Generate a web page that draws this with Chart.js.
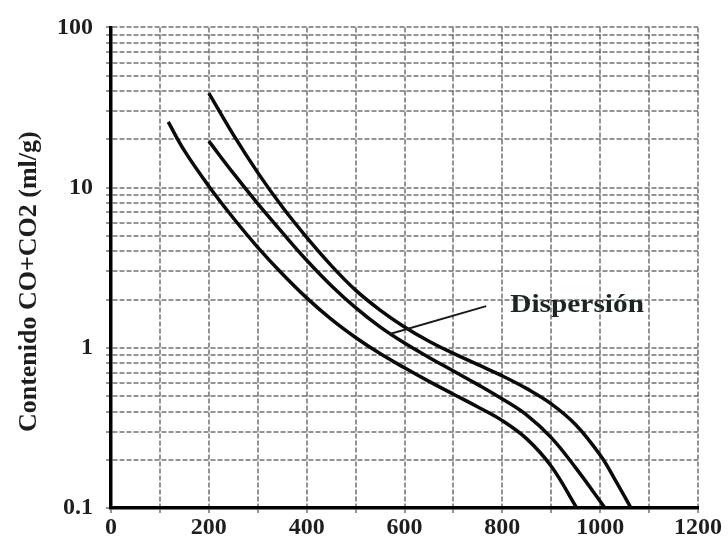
<!DOCTYPE html>
<html>
<head>
<meta charset="utf-8">
<script src="https://cdn.jsdelivr.net/npm/chart.js@4/dist/chart.umd.min.js"></script>
<style>
  html, body { margin: 0; padding: 0; background: #ffffff; }
  #wrap { width: 728px; height: 544px; }
</style>
</head>
<body>
<div id="wrap"><canvas id="c" width="728" height="544"></canvas></div>
<script>
// ---- data ----
const xGrid = [0, 100, 200, 300, 400, 500, 600, 700, 800, 900, 1000, 1100, 1200];
const xTickLabels = [0, 200, 400, 600, 800, 1000, 1200];
const yGrid = [0.1, 0.2, 0.3, 0.4, 0.5, 0.6, 0.7, 0.8, 0.9,
               1, 2, 3, 4, 5, 6, 7, 8, 9,
               10, 20, 30, 40, 50, 60, 70, 80, 90, 100];
const yTickLabels = [0.1, 1, 10, 100];

const upperX = [200, 250, 300, 350, 400, 450, 500, 550, 600, 650, 700, 750, 800, 850, 900, 950, 1000, 1030, 1063];
const upperY = [38.9, 21.4, 12.4, 7.59, 4.89, 3.27, 2.29, 1.72, 1.35, 1.10, 0.923, 0.785, 0.668, 0.556, 0.447, 0.331, 0.214, 0.151, 0.1];

const middleX = [200, 250, 300, 350, 400, 450, 500, 550, 600, 650, 700, 750, 800, 850, 900, 950, 1010];
const middleY = [19.5, 12.3, 7.94, 5.25, 3.52, 2.45, 1.78, 1.35, 1.07, 0.871, 0.716, 0.589, 0.479, 0.380, 0.275, 0.178, 0.1];

const lowerX = [117, 150, 200, 250, 300, 350, 400, 450, 500, 550, 600, 650, 700, 750, 800, 850, 900, 952];
const lowerY = [25.7, 17.0, 10.2, 6.46, 4.24, 2.90, 2.05, 1.51, 1.16, 0.92, 0.75, 0.617, 0.513, 0.427, 0.351, 0.270, 0.182, 0.1];

const yTitle = 'Contenido CO+CO2 (ml/g)';
const noteText = 'Dispersión';
const noteLineFrom = [570, 1.22];
const noteLineTo = [767, 1.82];
const noteTextAt = [816, 1.67];

// ---- helpers ----
const toPts = (xs, ys) => xs.map((x, i) => ({ x: x, y: ys[i] }));
const serif = '"Liberation Serif", "Times New Roman", serif';
const gridColor = 'rgba(60,60,60,0.55)';

const lineDs = (xs, ys) => ({
  data: toPts(xs, ys),
  borderColor: '#0a0a0a',
  borderWidth: 3.5,
  pointRadius: 0,
  fill: false,
  tension: 0.4
});

const decorPlugin = {
  id: 'decor',
  afterDatasetsDraw(chart) {
    const ctx = chart.ctx;
    const xs = chart.scales.x, ys = chart.scales.y;
    ctx.save();
    ctx.strokeStyle = '#1a1a1a';
    ctx.lineWidth = 2;
    ctx.beginPath();
    ctx.moveTo(xs.getPixelForValue(noteLineFrom[0]), ys.getPixelForValue(noteLineFrom[1]));
    ctx.lineTo(xs.getPixelForValue(noteLineTo[0]), ys.getPixelForValue(noteLineTo[1]));
    ctx.stroke();
    const tx = xs.getPixelForValue(noteTextAt[0]);
    const ty = ys.getPixelForValue(noteTextAt[1]);
    ctx.translate(tx, ty);
    ctx.scale(1.13, 1);
    ctx.fillStyle = '#1c2424';
    ctx.font = 'bold 26px ' + serif;
    ctx.textAlign = 'left';
    ctx.textBaseline = 'alphabetic';
    ctx.fillText(noteText, 0, 0);
    ctx.restore();
  },
  afterDraw(chart) {
    const ctx = chart.ctx;
    const area = chart.chartArea;
    ctx.save();
    ctx.translate(29, (area.top + area.bottom) / 2 + 14);
    ctx.rotate(-Math.PI / 2);
    ctx.fillStyle = '#1e1e1e';
    ctx.font = 'bold 26px ' + serif;
    ctx.textAlign = 'center';
    ctx.textBaseline = 'middle';
    ctx.fillText(yTitle, 0, 0);
    ctx.restore();
  }
};

new Chart(document.getElementById('c'), {
  type: 'line',
  data: {
    datasets: [lineDs(upperX, upperY), lineDs(middleX, middleY), lineDs(lowerX, lowerY)]
  },
  options: {
    responsive: false,
    animation: false,
    events: [],
    layout: { padding: { top: 27, right: 30, left: 0, bottom: 0 } },
    plugins: { legend: { display: false }, tooltip: { enabled: false } },
    scales: {
      x: {
        type: 'linear',
        min: 0,
        max: 1200,
        afterBuildTicks: (s) => { s.ticks = xGrid.map(v => ({ value: v })); },
        afterFit: (s) => { s.height = 36; },
        ticks: {
          autoSkip: false,
          maxRotation: 0,
          padding: 0,
          color: '#1e1e1e',
          font: { family: serif, size: 24, weight: 'bold' },
          callback: (v) => xTickLabels.includes(v) ? String(v) : ''
        },
        grid: { color: gridColor, lineWidth: 2, tickLength: 5 },
        border: { display: true, color: '#000', width: 3.5, dash: [5, 2] }
      },
      y: {
        type: 'logarithmic',
        min: 0.1,
        max: 100,
        afterBuildTicks: (s) => { s.ticks = yGrid.map(v => ({ value: v })); },
        afterFit: (s) => { s.width = 111; },
        ticks: {
          autoSkip: false,
          padding: 13,
          color: '#1e1e1e',
          font: { family: serif, size: 24, weight: 'bold' },
          callback: (v) => yTickLabels.includes(v) ? String(v) : ''
        },
        grid: { color: gridColor, lineWidth: 2, tickLength: 5 },
        border: { display: true, color: '#000', width: 3.5, dash: [5, 2] }
      }
    }
  },
  plugins: [decorPlugin]
});
</script>
</body>
</html>
